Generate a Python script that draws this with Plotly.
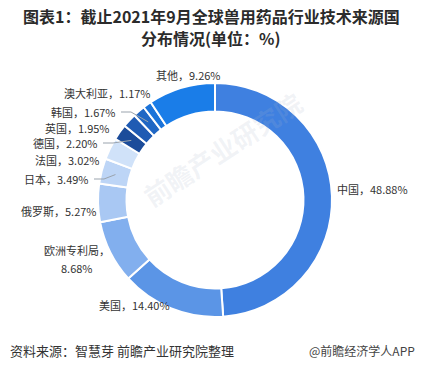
import math
import plotly.graph_objects as go

# ---- data ----
categories = ["中国", "美国", "欧洲专利局", "俄罗斯", "日本", "法国", "德国", "英国", "韩国", "澳大利亚", "其他"]
shares = [48.88, 14.40, 8.68, 5.27, 3.49, 3.02, 2.20, 1.95, 1.67, 1.17, 9.26]

# ---- styles ----
colors = ["#3f80e0", "#5b95e6", "#82afee", "#a9c8f3", "#bdd5f6", "#d0e2f9",
          "#1c4c9a", "#1f5bb3", "#2067c4", "#1b73d9", "#1a7de8"]

W, H = 422, 371
CX, CY, R_OUT, R_IN = 215, 200, 117, 88.5

# label layout (pixel x, pixel y, anchor, leader line?)
label_layout = {
    "中国": (335, 189, "left", False),
    "美国": (172, 305, "right", False),
    "欧洲专利局": (77, 259, "center", False),
    "俄罗斯": (99, 211, "right", False),
    "日本": (91, 179, "right", True),
    "法国": (102, 160, "right", False),
    "德国": (100, 143, "right", True),
    "英国": (112, 128, "right", False),
    "韩国": (118, 112, "right", True),
    "澳大利亚": (153, 93, "right", False),
    "其他": (223, 75, "right", False),
}

def px(x):
    return x / W

def py(y):
    return 1 - y / H

fig = go.Figure(go.Pie(
    labels=categories,
    values=shares,
    sort=False,
    direction="clockwise",
    rotation=0,
    hole=R_IN / R_OUT,
    marker=dict(colors=colors, line=dict(color="white", width=2)),
    textinfo="none",
    showlegend=False,
    domain=dict(x=[px(CX - R_OUT), px(CX + R_OUT)], y=[py(CY + R_OUT), py(CY - R_OUT)]),
))

LABEL_FONT = dict(family="Noto Sans CJK SC", size=11, color="#333333")
annotations = []
shapes = []
total = sum(shares)
cum = 0.0
for cat, v in zip(categories, shares):
    mid = (cum + v / 2) / total * 2 * math.pi
    cum += v
    lx, ly, anchor, line = label_layout[cat]
    if cat == "欧洲专利局":
        for dy, t in ((-8.5, f"{cat}，"), (8.5, f"{v:.2f}%")):
            annotations.append(dict(
                x=px(lx), y=py(ly + dy), xref="paper", yref="paper", text=t,
                showarrow=False, xanchor="center", yanchor="middle", font=LABEL_FONT,
            ))
    else:
        annotations.append(dict(
            x=px(lx), y=py(ly), xref="paper", yref="paper", text=f"{cat}，{v:.2f}%",
            showarrow=False, xanchor=anchor, yanchor="middle", font=LABEL_FONT,
        ))
    if line:
        rm = (R_OUT + R_IN) / 2
        ex = CX + rm * math.sin(mid)
        ey = CY - rm * math.cos(mid)
        x0 = lx + 3
        x1 = x0 + 10
        shapes.append(dict(
            type="path", xref="paper", yref="paper",
            path=f"M {px(x0)},{py(ly)} L {px(x1)},{py(ly)} L {px(ex)},{py(ey)}",
            line=dict(color="#9aa3ad", width=1),
        ))

# watermark
annotations.append(dict(
    x=px(222), y=py(148), xref="paper", yref="paper", text="<b>前瞻产业研究院</b>",
    showarrow=False, textangle=-33,
    font=dict(family="Noto Sans CJK SC", size=26, color="rgba(170,180,200,0.16)"),
))

# title (two lines)
TITLE_FONT = dict(family="Noto Sans CJK SC", size=16, color="#2b2b2b")
for y, t in ((16, "<b>图表1：截止2021年9月全球兽用药品行业技术来源国</b>"),
             (38, "<b>分布情况(单位：%)</b>")):
    annotations.append(dict(
        x=0.5, y=py(y), xref="paper", yref="paper", text=t,
        showarrow=False, xanchor="center", yanchor="middle", font=TITLE_FONT,
    ))

# footer
annotations.append(dict(
    x=px(8), y=py(350), xref="paper", yref="paper",
    text="资料来源：智慧芽 前瞻产业研究院整理",
    showarrow=False, xanchor="left", yanchor="middle",
    font=dict(family="Noto Sans CJK SC", size=13, color="#333333"),
))
annotations.append(dict(
    x=px(417), y=py(350), xref="paper", yref="paper",
    text="@前瞻经济学人APP",
    showarrow=False, xanchor="right", yanchor="middle",
    font=dict(family="Noto Sans CJK SC", size=12, color="#444444"),
))

fig.update_layout(
    width=W, height=H,
    margin=dict(l=0, r=0, t=0, b=0),
    paper_bgcolor="white", plot_bgcolor="white",
    annotations=annotations, shapes=shapes,
)

fig.write_html(
    "out.html",
    config={"displayModeBar": False},
    post_script="document.body.style.margin='0';document.body.style.overflow='hidden';",
)
